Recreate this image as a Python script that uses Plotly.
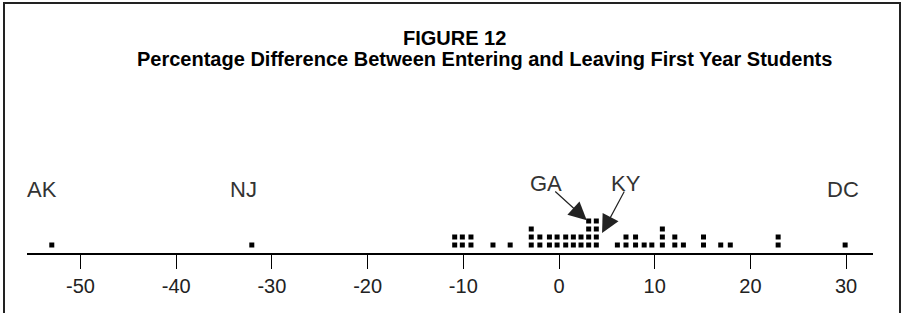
import plotly.graph_objects as go

# ---- data ----
col_values = [-53.0, -32.1, -10.9, -10.1, -9.2, -6.9, -5.1, -2.9, -2.0, -1.0, -0.2,
              0.7, 1.5, 2.3, 3.1, 3.9, 6.1, 7.0, 8.0, 8.9, 9.7, 10.8, 12.1, 13.0,
              15.1, 16.9, 17.9, 22.9, 29.9]
col_counts = [1, 1, 2, 2, 2, 1, 1, 3, 2, 2, 2,
              2, 2, 2, 4, 4, 1, 2, 2, 1, 1, 3, 2, 1,
              2, 1, 1, 2, 1]
tick_values = [-50, -40, -30, -20, -10, 0, 10, 20, 30]
state_labels = ["AK", "NJ", "DC"]
state_label_x = [-54.0, -33.0, 29.7]
arrow_labels = ["GA", "KY"]
arrow_label_x = [-1.36, 7.0]
arrow_tip_x = [2.9, 4.5]
arrow_tip_y = [4.1, 2.5]

title1 = "FIGURE 12"
title2 = "Percentage Difference Between Entering and Leaving First Year Students"

# stack dots into columns
xs, ys = [], []
for v, n in zip(col_values, col_counts):
    for k in range(1, n + 1):
        xs.append(v)
        ys.append(k)

W, H = 908, 313
def px(x):
    return x / W
def py(y):
    return 1 - y / H

fig = go.Figure()
fig.add_trace(go.Scatter(
    x=xs, y=ys, mode="markers",
    marker=dict(symbol="square", size=5, color="black", line=dict(width=0)),
    hoverinfo="x", showlegend=False,
))

x_left, x_right = 27, 873
zero_px, unit_px = 559, 9.57
fig.update_xaxes(
    domain=[px(x_left), px(x_right)],
    range=[(x_left - zero_px) / unit_px, (x_right - zero_px) / unit_px],
    tickmode="array", tickvals=tick_values,
    ticktext=[str(t) for t in tick_values],
    ticks="outside", ticklen=14, tickwidth=1, tickcolor="black",
    showline=True, linecolor="black", linewidth=2,
    showgrid=False, zeroline=False,
    tickfont=dict(family="Liberation Sans, Arial", size=20, color="#222"),
    fixedrange=True,
)
fig.update_yaxes(
    domain=[py(253), py(173)], range=[0, 10], visible=False, fixedrange=True,
)

FONT = "Liberation Sans, Arial"
ann = []
ann.append(dict(text="<b>" + title1 + "</b>", xref="paper", yref="paper",
                x=px(454), y=py(38), xanchor="center", yanchor="middle", showarrow=False,
                font=dict(family=FONT, size=20, color="black")))
ann.append(dict(text="<b>" + title2 + "</b>", xref="paper", yref="paper",
                x=px(484), y=py(59), xanchor="center", yanchor="middle", showarrow=False,
                font=dict(family=FONT, size=20, color="black")))
for lab, lx in zip(state_labels, state_label_x):
    ann.append(dict(text=lab, x=lx, y=7.9, xref="x", yref="y", showarrow=False,
                    xanchor="center", yanchor="middle",
                    font=dict(family=FONT, size=22, color="#333")))
for lab, lx in zip(arrow_labels, arrow_label_x):
    ann.append(dict(text=lab, x=lx, y=8.75, xref="x", yref="y", showarrow=False,
                    xanchor="center", yanchor="middle",
                    font=dict(family=FONT, size=22, color="#333")))
arrow_offsets = [(-33, -30), (23, -43)]
for tx, ty, (ax, ay) in zip(arrow_tip_x, arrow_tip_y, arrow_offsets):
    ann.append(dict(text="", x=tx, y=ty, xref="x", yref="y", showarrow=True,
                    ax=ax, ay=ay, arrowhead=2, arrowsize=3, arrowwidth=1.2,
                    arrowcolor="#222", standoff=0))

fig.update_layout(
    width=W, height=H,
    margin=dict(l=0, r=0, t=0, b=0),
    paper_bgcolor="white", plot_bgcolor="white",
    annotations=ann,
    shapes=[dict(type="rect", xref="paper", yref="paper",
                 x0=px(4), x1=px(900), y0=-0.2, y1=py(3),
                 line=dict(color="#222", width=2))],
)

fig.write_html("out.html", config={"displayModeBar": False},
               post_script="document.body.style.margin='0';document.body.style.overflow='hidden';")
